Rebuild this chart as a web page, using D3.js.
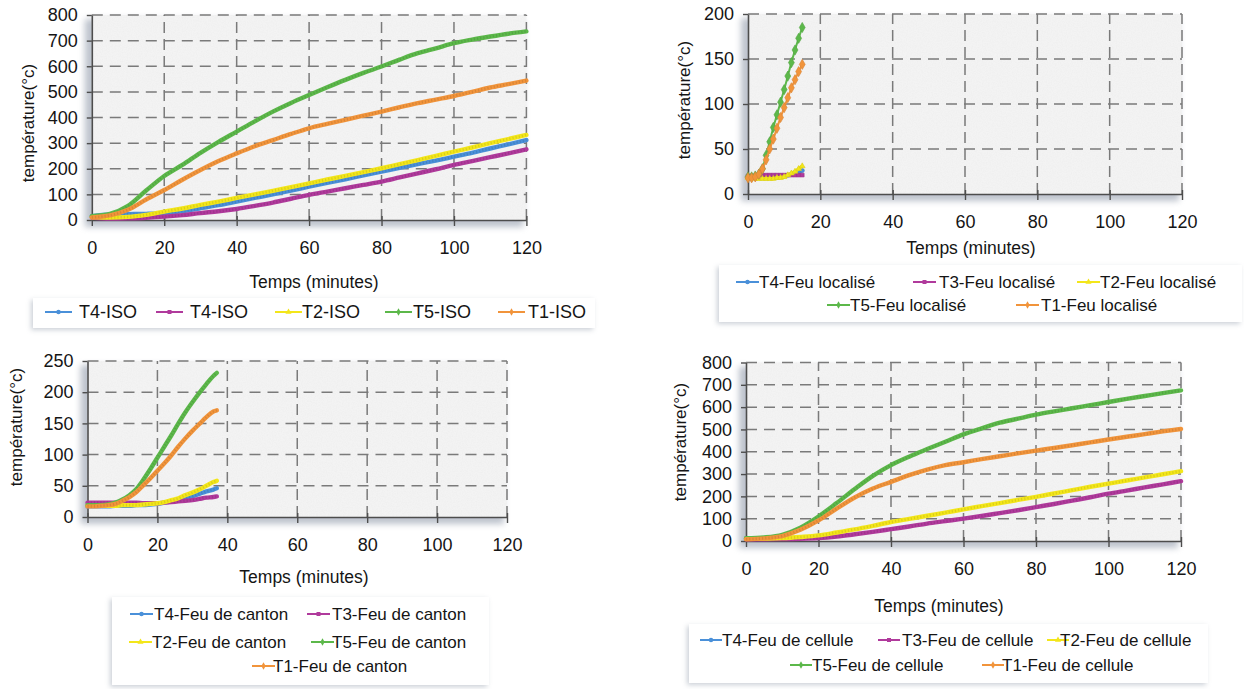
<!DOCTYPE html>
<html><head><meta charset="utf-8">
<script src="https://cdn.jsdelivr.net/npm/d3@7"></script>
<style>
body{margin:0;background:#fff;}
svg{display:block;font-family:"Liberation Sans",Arial,Helvetica,sans-serif;}
</style>
</head><body>
<svg id="c" width="1244" height="689"></svg>
<script>
// ---------------- DATA ----------------
const xTicks = [0, 20, 40, 60, 80, 100, 120];
const xTitle = "Temps (minutes)";
const yTitle = "température(°c)";

// Panel 1 : ISO
const isoTime = [0,5,10,15,20,25,30,35,40,45,50,55,60,65,70,75,80,85,90,95,100,105,110,115,120];
const isoT4a  = [15,22,23,24,27,35,46,58,72,86,100,115,130,145,159,174,189,204,218,232,247,262,279,295,312];
const isoT4b  = [10,6,7,9,13,19,27,34,43,55,68,83,98,111,124,137,150,166,182,198,215,230,245,260,276];
const isoT2   = [12,10,12,20,33,45,59,72,86,100,114,128,143,158,172,187,202,218,234,250,267,283,300,316,332];
const isoT5   = [15,24,55,115,172,215,262,305,345,385,423,457,488,518,547,574,599,626,651,670,690,704,716,727,736];
const isoT1   = [10,18,40,80,117,157,195,230,260,288,312,336,358,375,391,407,423,440,456,470,484,500,517,530,544];
const isoYTicks = [0,100,200,300,400,500,600,700,800];
const isoNames = ["T4-ISO","T4-ISO","T2-ISO","T5-ISO","T1-ISO"];

// Panel 2 : Feu localisé
const locTime = [0,1,2,3,4,5,6,7,8,9,10,11,12,13,14,15];
const locT4 = [19,19,19,19,19,19,19,19,19,20,20,21,22,23,24,26];
const locT3 = [20,20,20,21,21,21,21,21,21,21,21,21,21,21,21,21];
const locT2 = [18,18,17,17,17,17,17,17,18,18,19,21,23,25,28,31];
const locT5 = [19,19,20,22,28,43,58,74,88,102,116,131,146,160,173,185];
const locT1 = [18,18,19,22,28,38,50,61,73,85,96,107,118,127,136,144];
const locYTicks = [0,50,100,150,200];
const locNames = ["T4-Feu localisé","T3-Feu localisé","T2-Feu localisé","T5-Feu localisé","T1-Feu localisé"];

// Panel 3 : Feu de canton
const canTime = [0,2,4,6,8,10,12,14,16,18,20,22,24,26,28,30,32,34,36,37];
const canT4 = [17,17,17,17,18,18,18,19,19,20,21,23,25,27,30,33,37,41,44,46];
const canT3 = [23,23,23,23,23,23,23,23,22,22,22,23,24,25,26,27,29,31,32,33];
const canT2 = [18,18,18,18,18,19,19,19,20,21,22,24,27,30,35,39,44,50,56,58];
const canT5 = [19,19,19,20,23,28,35,45,60,77,95,113,131,150,168,184,199,213,226,231];
const canT1 = [17,17,18,19,21,26,32,40,51,62,74,86,99,113,126,138,149,160,169,171];
const canYTicks = [0,50,100,150,200,250];
const canNames = ["T4-Feu de canton","T3-Feu de canton","T2-Feu de canton","T5-Feu de canton","T1-Feu de canton"];

// Panel 4 : Feu de cellule
const celTime = [0,5,10,15,20,25,30,35,40,45,50,55,60,65,70,75,80,85,90,95,100,105,110,115,120];
const celT4 = [12,12,13,14];
const celT3 = [8,8,9,10,13,20,30,41,53,65,78,89,100,112,125,138,152,166,181,196,212,226,240,254,268];
const celT2 = [10,11,13,18,25,38,52,68,85,99,113,127,142,156,170,184,198,213,228,243,257,271,285,299,313];
const celT5 = [12,16,28,60,110,170,233,292,340,378,412,445,478,505,530,548,566,581,595,609,623,637,650,663,675];
const celT1 = [8,12,22,50,92,145,195,235,265,295,320,340,353,367,380,393,405,417,429,442,455,467,479,491,502];
const celYTicks = [0,100,200,300,400,500,600,700,800];
const celNames = ["T4-Feu de cellule","T3-Feu de cellule","T2-Feu de cellule","T5-Feu de cellule","T1-Feu de cellule"];

// ---------------- STYLE / LAYOUT ----------------
const colors = ["#4a90d9","#b03a9c","#f3e61a","#5cb84a","#f1943b"];
const symbols = [d3.symbolCircle, d3.symbolSquare, d3.symbolTriangle, d3.symbolDiamond, d3.symbolDiamond];

const panels = [
  { time: isoTime, series: [isoT4a, isoT4b, isoT2, isoT5, isoT1], names: isoNames, yTicks: isoYTicks,
    x0: 91.8, x1: 526.4, y0: 220, y1: 15, xt: [314, 282], yt: [28, 123], dense: true,
    box: [33, 298, 562, 30], lfont: 18,
    leg: [[45,312,79],[156,312,190],[275,312,302],[385,312,413],[498,312,528]], llen: 27 },
  { time: locTime, series: [locT4, locT3, locT2, locT5, locT1], names: locNames, yTicks: locYTicks,
    x0: 748, x1: 1182, y0: 194, y1: 14, xt: [971, 248], yt: [684, 100], dense: false,
    box: [719, 265, 523, 57], lfont: 17,
    leg: [[736,282,759],[913,282,939],[1077,282,1100],[827,305,850],[1016,305,1041]], llen: 23 },
  { time: canTime, series: [canT4, canT3, canT2, canT5, canT1], names: canNames, yTicks: canYTicks,
    x0: 87.5, x1: 507, y0: 517, y1: 361, xt: [304, 577], yt: [16, 427], dense: true,
    box: [112, 597, 377, 88], lfont: 17,
    leg: [[130,614,154],[307,614,332],[129,642,152],[311,642,332],[252,666,273]], llen: 23 },
  { time: celTime, series: [celT4, celT3, celT2, celT5, celT1], names: celNames, yTicks: celYTicks,
    x0: 746, x1: 1181, y0: 541, y1: 362.5, xt: [939, 606], yt: [680, 442], dense: true,
    box: [689, 624, 519, 59], lfont: 17,
    leg: [[700,640,722],[878,640,902],[1047,640,1060],[790,665,812],[982,665,1002]], llen: 22 }
];

const svg = d3.select("#c");
const defs = svg.append("defs");

// paper texture
const paper = defs.append("filter").attr("id","paper").attr("x",0).attr("y",0).attr("width","100%").attr("height","100%");
paper.append("feTurbulence").attr("type","fractalNoise").attr("baseFrequency",0.8).attr("numOctaves",2).attr("seed",4).attr("result","n");
paper.append("feColorMatrix").attr("in","n").attr("type","matrix")
  .attr("values","0 0 0 0 0.78  0 0 0 0 0.78  0 0 0 0 0.78  0.55 0 0 0 -0.22").attr("result","g");
paper.append("feComposite").attr("in","g").attr("in2","SourceAlpha").attr("operator","in").attr("result","gc");
const pm = paper.append("feMerge");
pm.append("feMergeNode").attr("in","SourceGraphic");
pm.append("feMergeNode").attr("in","gc");

const blur = defs.append("filter").attr("id","blur").attr("x","-20%").attr("y","-20%").attr("width","140%").attr("height","140%");
blur.append("feGaussianBlur").attr("stdDeviation",3);

const shadow = defs.append("filter").attr("id","lshadow").attr("x","-10%").attr("y","-30%").attr("width","120%").attr("height","160%");
shadow.append("feDropShadow").attr("dx",-2).attr("dy",2).attr("stdDeviation",2.5).attr("flood-color","#8d98a8").attr("flood-opacity",0.45);

const textCol = "#151515";

panels.forEach(p => {
  const g = svg.append("g");
  const x = d3.scaleLinear().domain([0,120]).range([p.x0, p.x1]);
  const yMax = p.yTicks[p.yTicks.length-1];
  const y = d3.scaleLinear().domain([0,yMax]).range([p.y0, p.y1]);

  // plot shadow
  g.append("rect").attr("x", p.x0-7).attr("y", p.y1+4).attr("width", p.x1-p.x0+4).attr("height", p.y0-p.y1+3)
    .attr("fill","#7d889b").attr("opacity",0.5).attr("filter","url(#blur)");
  // plot background
  g.append("rect").attr("x", p.x0).attr("y", p.y1).attr("width", p.x1-p.x0).attr("height", p.y0-p.y1)
    .attr("fill","#f3f3f3").attr("filter","url(#paper)");

  // grid
  g.append("g").selectAll("line").data(p.yTicks.filter(v => v > 0)).join("line")
    .attr("x1", p.x0).attr("x2", p.x1).attr("y1", d => y(d)).attr("y2", d => y(d))
    .attr("stroke","#7a7a7a").attr("stroke-width",1.5).attr("stroke-dasharray","11,7");
  g.append("g").selectAll("line").data(xTicks.filter(v => v > 0)).join("line")
    .attr("x1", d => x(d)).attr("x2", d => x(d)).attr("y1", p.y0).attr("y2", p.y1)
    .attr("stroke","#7a7a7a").attr("stroke-width",1.5).attr("stroke-dasharray","11,6");

  // axes
  const ax = g.append("g").attr("transform",`translate(0,${p.y0})`)
    .call(d3.axisBottom(x).tickValues(xTicks).tickSizeInner(6).tickSizeOuter(0).tickPadding(15));
  const ay = g.append("g").attr("transform",`translate(${p.x0},0)`)
    .call(d3.axisLeft(y).tickValues(p.yTicks).tickSizeInner(5).tickSizeOuter(0).tickPadding(9));
  [ax, ay].forEach(a => {
    a.select(".domain").attr("stroke","#4d4d4d").attr("stroke-width",1.6);
    a.selectAll(".tick line").attr("stroke","#4d4d4d").attr("stroke-width",1.4);
    a.selectAll(".tick text").attr("fill",textCol).style("font-size","18px").style("font-family",'"Liberation Sans",Arial,sans-serif');
  });
  ax.selectAll(".tick line").attr("y1",-4);

  // titles
  g.append("text").attr("x", p.xt[0]).attr("y", p.xt[1]).attr("text-anchor","middle").attr("dominant-baseline","central")
    .attr("fill",textCol).style("font-size","17.5px").text(xTitle);
  g.append("text").attr("transform",`translate(${p.yt[0]},${p.yt[1]}) rotate(-90)`).attr("text-anchor","middle")
    .attr("dominant-baseline","central").attr("fill",textCol).style("font-size","17px").text(yTitle);

  // series
  const sg = g.append("g");
  p.series.forEach((vals, i) => {
    const pts = vals.map((v, k) => [p.time[k], v]);
    const line = d3.line().x(d => x(d[0])).y(d => y(d[1])).curve(d3.curveMonotoneX);
    if (p.dense) {
      sg.append("path").attr("d", line(pts)).attr("fill","none").attr("stroke",colors[i])
        .attr("stroke-width",4.4).attr("stroke-linejoin","round").attr("stroke-linecap","round");
      sg.append("path").attr("d", line(pts)).attr("fill","none").attr("stroke","#000")
        .attr("stroke-opacity",0.1).attr("stroke-width",2.6).attr("stroke-dasharray","1.2,2");
    } else {
      sg.append("path").attr("d", line(pts)).attr("fill","none").attr("stroke",colors[i])
        .attr("stroke-width", i >= 3 ? 2 : 3.4).attr("stroke-linejoin","round");
      sg.selectAll(null).data(pts).join("path")
        .attr("transform", d => `translate(${x(d[0])},${y(d[1])})`)
        .attr("d", d3.symbol().type(symbols[i]).size(i >= 3 ? 30 : 14))
        .attr("fill", colors[i]).attr("stroke", d3.color(colors[i]).darker(0.3)).attr("stroke-width",0.6);
    }
  });

  // legend
  const lg = svg.append("g");
  lg.append("rect").attr("x",p.box[0]).attr("y",p.box[1]).attr("width",p.box[2]).attr("height",p.box[3])
    .attr("fill","#fff").attr("filter","url(#lshadow)");
  p.names.forEach((name, i) => {
    const [lx, ly, tx] = p.leg[i];
    lg.append("line").attr("x1",lx).attr("x2",lx+p.llen).attr("y1",ly).attr("y2",ly)
      .attr("stroke",colors[i]).attr("stroke-width",2);
    lg.append("path").attr("transform",`translate(${lx+p.llen/2},${ly})`)
      .attr("d", d3.symbol().type(symbols[i]).size(16)).attr("fill",colors[i]);
    lg.append("text").attr("x",tx).attr("y",ly).attr("dominant-baseline","central")
      .attr("fill",textCol).style("font-size",p.lfont+"px").text(name);
  });
});
</script>
</body></html>
